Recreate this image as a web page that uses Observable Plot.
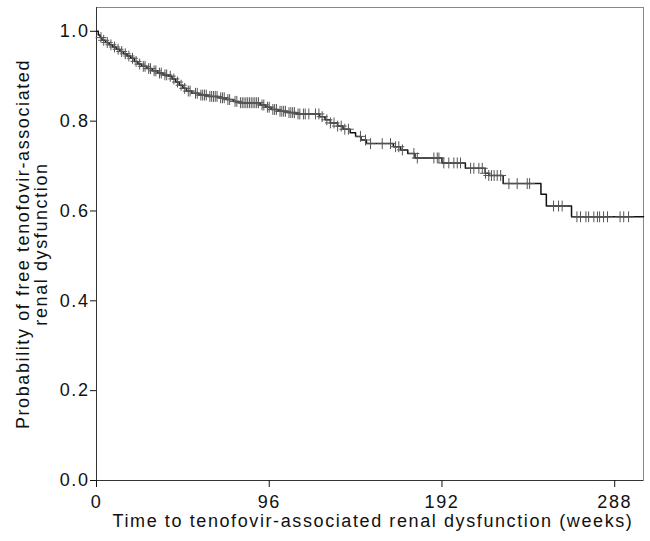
<!DOCTYPE html>
<html>
<head>
<meta charset="utf-8">
<script src="https://cdn.jsdelivr.net/npm/d3@7"></script>
<script src="https://cdn.jsdelivr.net/npm/@observablehq/plot@0.6"></script>
<style>
  html, body { margin: 0; padding: 0; background: #fff; }
</style>
</head>
<body>
<div id="chart"></div>
<script>
// Kaplan–Meier estimate: event times (weeks) and survival after each step
const eventWeeks = [0, 1, 2, 3, 5, 7, 9, 11, 13, 15, 17, 19, 21, 23, 25, 28, 31, 34, 37, 40,
  42, 44, 46, 48, 50, 53, 57, 62, 68, 72, 76, 79, 91, 94, 97, 101, 106, 111, 124, 127,
  130, 134, 137, 141, 144, 147, 150, 165, 169, 173, 177, 192, 205, 216, 218, 226, 247, 250, 264, 304];
const survival = [1.0, 0.992, 0.986, 0.98, 0.975, 0.97, 0.965, 0.96, 0.955, 0.95, 0.945, 0.94, 0.933, 0.927, 0.922, 0.917, 0.912, 0.907, 0.903, 0.9,
  0.894, 0.887, 0.88, 0.873, 0.867, 0.862, 0.858, 0.855, 0.852, 0.848, 0.844, 0.841, 0.836, 0.831, 0.826, 0.822, 0.819, 0.816, 0.81, 0.803,
  0.796, 0.789, 0.782, 0.774, 0.766, 0.758, 0.75, 0.743, 0.736, 0.728, 0.718, 0.707, 0.695, 0.684, 0.679, 0.661, 0.637, 0.611, 0.587, 0.587];

// Censored observations (weeks)
const censorWeeks = [2.5, 4, 6, 8, 10, 12, 14, 16, 18, 20, 22, 24, 26, 27, 29, 30, 32, 33, 35, 36,
  38, 39, 41, 43, 45, 47, 49, 51, 52, 55, 56, 58, 59, 60, 61, 63, 64, 65, 66, 67,
  69, 70, 71, 73, 74, 77, 78, 80, 81, 82, 83, 84, 85, 86, 87, 88, 89, 90, 92, 93,
  95, 96, 98, 99, 100, 102, 103, 104, 105, 107, 108, 109, 110, 112, 113, 115, 116, 118, 121.7, 123.6,
  125.4, 128, 130, 132, 134, 136, 138, 140, 146.7, 149.5, 152.3, 158.8, 163.4, 166.2, 168, 170, 176.4, 178.3, 187.5, 189.4,
  190.3, 193, 195.8, 198.6, 200.5, 202.3, 207.9, 209.7, 212.5, 214.4, 216.2, 218, 219.5, 221, 222.7, 224.6, 229.2, 233.8, 239.4, 240.7,
  254, 256.8, 258.8, 267, 269, 272, 273.5, 276.4, 278.4, 279.6, 281.8, 284, 291, 293, 295.7];

const xTicks = [0, 96, 192, 288];
const yTicks = [0, 0.2, 0.4, 0.6, 0.8, 1.0];
const xTitle = "Time to tenofovir-associated renal dysfunction (weeks)";
const yTitle = "Probability of free tenofovir-associated\nrenal dysfunction";

const curve = eventWeeks.map((t, i) => ({t, s: survival[i]}));
const survAt = t => survival[Math.max(0, d3.bisectRight(eventWeeks, t) - 1)];
const censors = censorWeeks.map(t => ({t, s: survAt(t)}));

const chart = Plot.plot({
  width: 650,
  height: 541,
  marginLeft: 96,
  marginRight: 7,
  marginTop: 7,
  marginBottom: 61,
  style: {
    fontFamily: "'Liberation Sans', Arial, Helvetica, sans-serif",
    fontSize: "18px",
    letterSpacing: "1.6px",
    color: "#111",
    background: "#fff"
  },
  x: {domain: [0, 304]},
  y: {domain: [0, 1.053]},
  marks: [
    Plot.frame({stroke: "#888"}),
    Plot.ruleX([0], {stroke: "#333"}),
    Plot.ruleY([0], {stroke: "#333"}),
    Plot.axisX({ticks: xTicks, tickSize: 7, tickPadding: 8, label: null, fontSize: 18}),
    Plot.axisY({ticks: yTicks, tickFormat: ".1f", tickSize: 6, tickPadding: 1, label: null, fontSize: 18}),
    Plot.line(curve, {x: "t", y: "s", curve: "step-after", stroke: "#111", strokeWidth: 1.5}),
    Plot.dot(censors, {x: "t", y: "s", symbol: "plus", r: 3.6, stroke: "#555", strokeWidth: 1}),
    Plot.text([xTitle], {text: d => d, frameAnchor: "bottom", dy: 46, dx: 3, fontSize: 18}),
    Plot.text([yTitle], {text: d => d, frameAnchor: "left", textAnchor: "middle", rotate: -90, dx: -64, lineHeight: 1.0, fontSize: 18})
  ]
});
document.getElementById("chart").appendChild(chart);
</script>
</body>
</html>
